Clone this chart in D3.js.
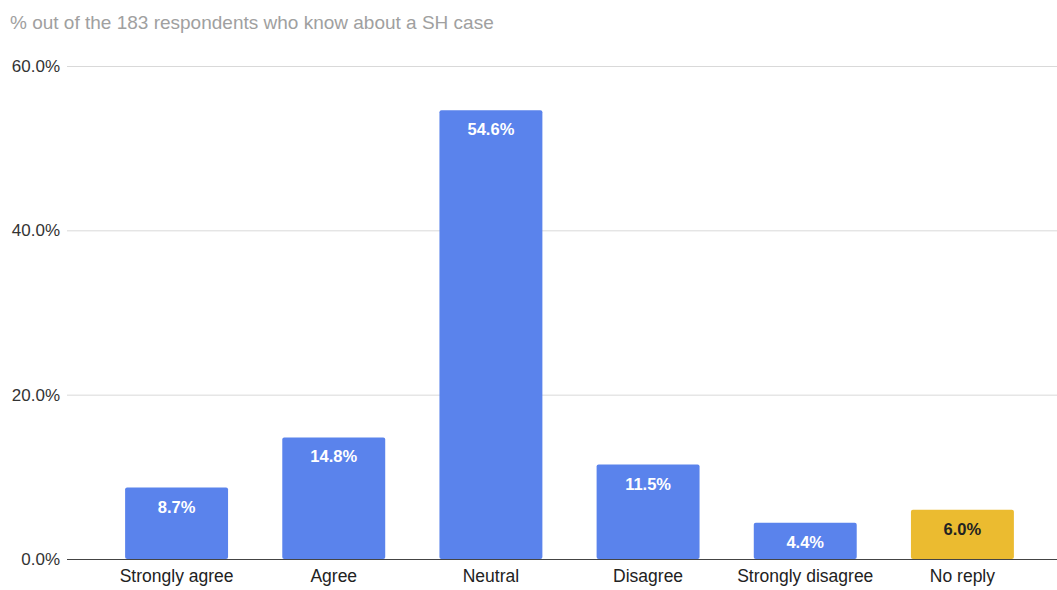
<!DOCTYPE html>
<html>
<head>
<meta charset="utf-8">
<script src="https://cdn.jsdelivr.net/npm/d3@7"></script>
<style>
  html, body { margin: 0; padding: 0; background: #fff; }
  svg { display: block; font-family: "Liberation Sans", Arial, sans-serif; }
</style>
</head>
<body>
<svg id="chart" width="1057" height="590"></svg>
<script>
// Survey answers and their share of respondents (%)
const categories = ["Strongly agree", "Agree", "Neutral", "Disagree", "Strongly disagree", "No reply"];
const values = [8.7, 14.8, 54.6, 11.5, 4.4, 6.0];
const barColors = ["#5a83ec", "#5a83ec", "#5a83ec", "#5a83ec", "#5a83ec", "#ebbb30"];
const labelColors = ["#ffffff", "#ffffff", "#ffffff", "#ffffff", "#ffffff", "#222222"];
const yTicks = [0, 20, 40, 60];
const title = "% out of the 183 respondents who know about a SH case";

const svg = d3.select("#chart");
const plot = { left: 67, right: 1057, top: 66, bottom: 559 };

const x = d3.scaleBand()
  .domain(categories)
  .range([98, 1041])
  .paddingInner(0.345)
  .paddingOuter(0.1725);

const y = d3.scaleLinear()
  .domain([0, 60])
  .range([plot.bottom, plot.top]);

// Title
svg.append("text")
  .attr("x", 10)
  .attr("y", 29)
  .attr("fill", "#a0a0a0")
  .attr("font-size", 19)
  .text(title);

// Horizontal gridlines
svg.append("g")
  .selectAll("line")
  .data(yTicks.filter(d => d !== 0))
  .join("line")
  .attr("x1", plot.left)
  .attr("x2", plot.right)
  .attr("y1", d => y(d) + 0.5)
  .attr("y2", d => y(d) + 0.5)
  .attr("stroke", "#d9d9d9")
  .attr("stroke-width", 1);

// Y axis labels
const yAxis = d3.axisLeft(y)
  .tickValues(yTicks)
  .tickSize(0)
  .tickPadding(0)
  .tickFormat(d => d.toFixed(1) + "%");

svg.append("g")
  .attr("transform", "translate(60,0)")
  .call(yAxis)
  .call(g => g.select(".domain").remove())
  .call(g => g.selectAll("text")
    .attr("fill", "#333")
    .attr("font-size", 17)
    .attr("font-family", "Liberation Sans, Arial, sans-serif"));

// Bars
svg.append("g")
  .selectAll("rect")
  .data(values)
  .join("rect")
  .attr("x", (d, i) => x(categories[i]))
  .attr("y", d => y(d))
  .attr("width", x.bandwidth())
  .attr("height", d => y(0) - y(d))
  .attr("rx", 2)
  .attr("fill", (d, i) => barColors[i]);

// Value labels inside bars
svg.append("g")
  .selectAll("text")
  .data(values)
  .join("text")
  .attr("x", (d, i) => x(categories[i]) + x.bandwidth() / 2)
  .attr("y", d => y(d) + 25)
  .attr("text-anchor", "middle")
  .attr("font-size", 16.5)
  .attr("font-weight", "bold")
  .attr("fill", (d, i) => labelColors[i])
  .text(d => d.toFixed(1) + "%");

// Baseline
svg.append("line")
  .attr("x1", plot.left)
  .attr("x2", plot.right)
  .attr("y1", y(0) + 0.5)
  .attr("y2", y(0) + 0.5)
  .attr("stroke", "#444")
  .attr("stroke-width", 1);

// Category axis
const xAxis = d3.axisBottom(x).tickSize(0).tickPadding(0);
svg.append("g")
  .attr("transform", `translate(0,${plot.bottom + 11})`)
  .call(xAxis)
  .call(g => g.select(".domain").remove())
  .call(g => g.selectAll("text")
    .attr("fill", "#222")
    .attr("font-size", 17.5)
    .attr("font-family", "Liberation Sans, Arial, sans-serif"));
</script>
</body>
</html>
